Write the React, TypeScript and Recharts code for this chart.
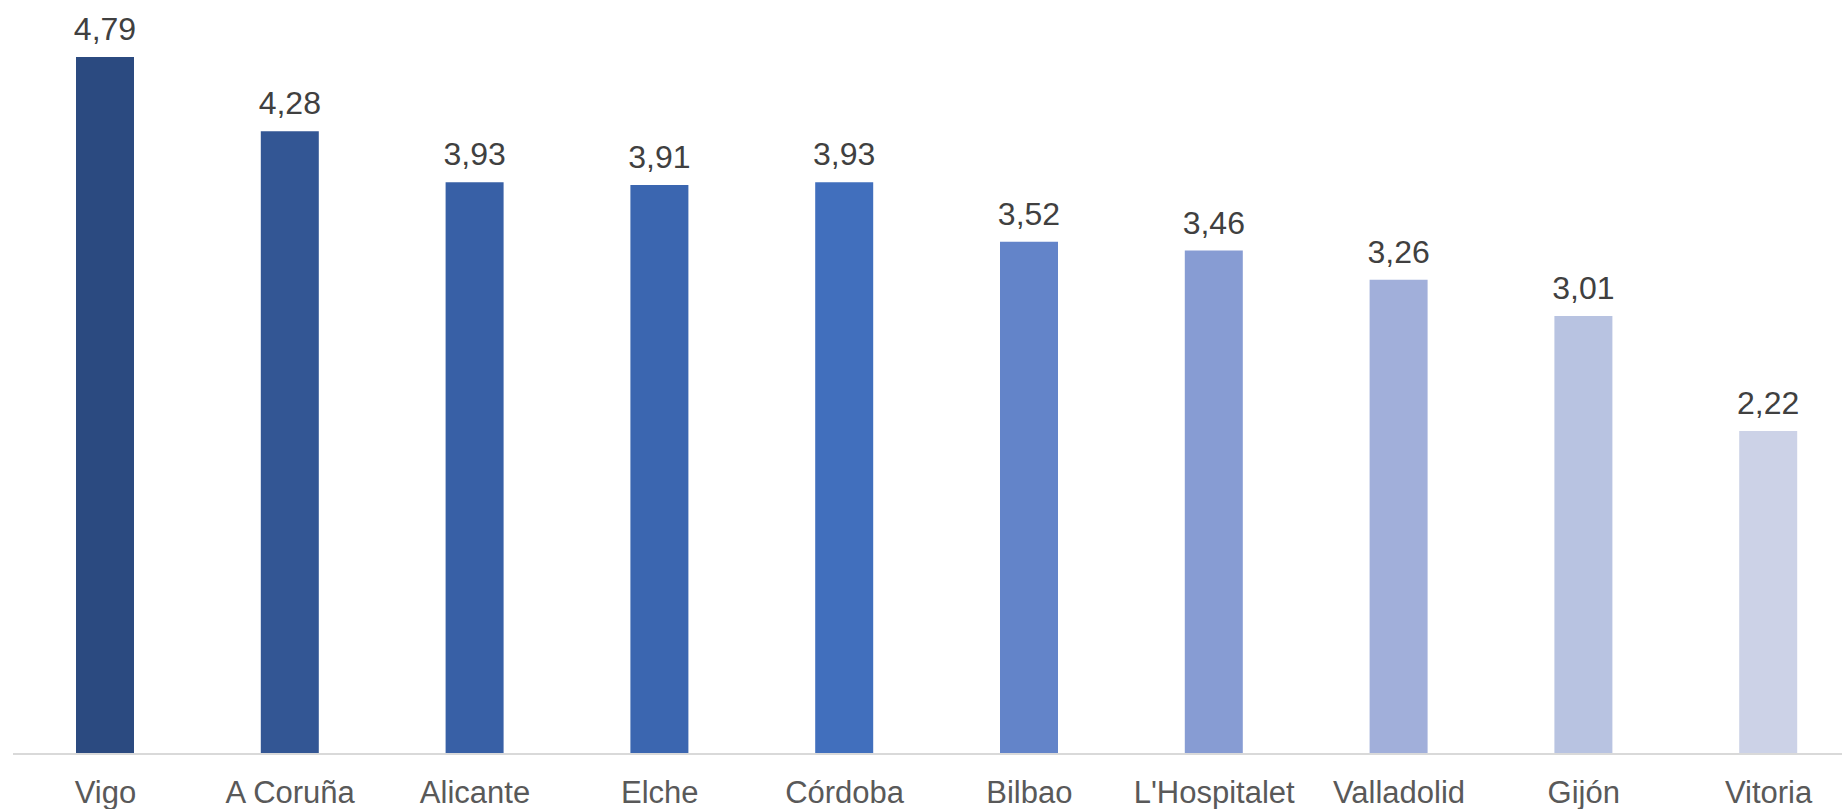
import { BarChart, Bar, XAxis, YAxis, Cell, LabelList } from "recharts";

const cities = [
  "Vigo",
  "A Coruña",
  "Alicante",
  "Elche",
  "Córdoba",
  "Bilbao",
  "L'Hospitalet",
  "Valladolid",
  "Gijón",
  "Vitoria",
];

const values = [4.79, 4.28, 3.93, 3.91, 3.93, 3.52, 3.46, 3.26, 3.01, 2.22];

const colors = [
  "#2B4A80",
  "#335694",
  "#3860A6",
  "#3B66B0",
  "#416FBD",
  "#6384C9",
  "#879CD3",
  "#A1AFDA",
  "#B8C3E1",
  "#CCD2E7",
];

const data = cities.map((city, i) => ({ city, value: values[i] }));

const font = '"Liberation Sans", Arial, sans-serif';

export default function App() {
  return (
    <div
      style={{
        position: "absolute",
        left: 0,
        top: 0,
        width: 1842,
        height: 809,
        overflow: "hidden",
        background: "#fff",
      }}
    >
      <BarChart
        width={1861}
        height={809}
        data={data}
        margin={{ top: 26.5, right: 0, bottom: 0, left: 13 }}
      >
        <XAxis
          dataKey="city"
          height={55}
          tickLine={false}
          tickSize={0}
          tickMargin={27}
          axisLine={{ stroke: "#D9D9D9", strokeWidth: 2 }}
          tick={{ fill: "#595959", fontSize: 31, fontFamily: font }}
          interval={0}
        />
        <YAxis hide domain={[0, 5]} />
        <Bar dataKey="value" barSize={58} isAnimationActive={false}>
          {data.map((d, i) => (
            <Cell key={d.city} fill={colors[i]} />
          ))}
          <LabelList
            dataKey="value"
            position="top"
            offset={17}
            fill="#404040"
            fontSize={32}
            fontFamily={font}
            formatter={(v: number) => v.toFixed(2).replace(".", ",")}
          />
        </Bar>
      </BarChart>
    </div>
  );
}
